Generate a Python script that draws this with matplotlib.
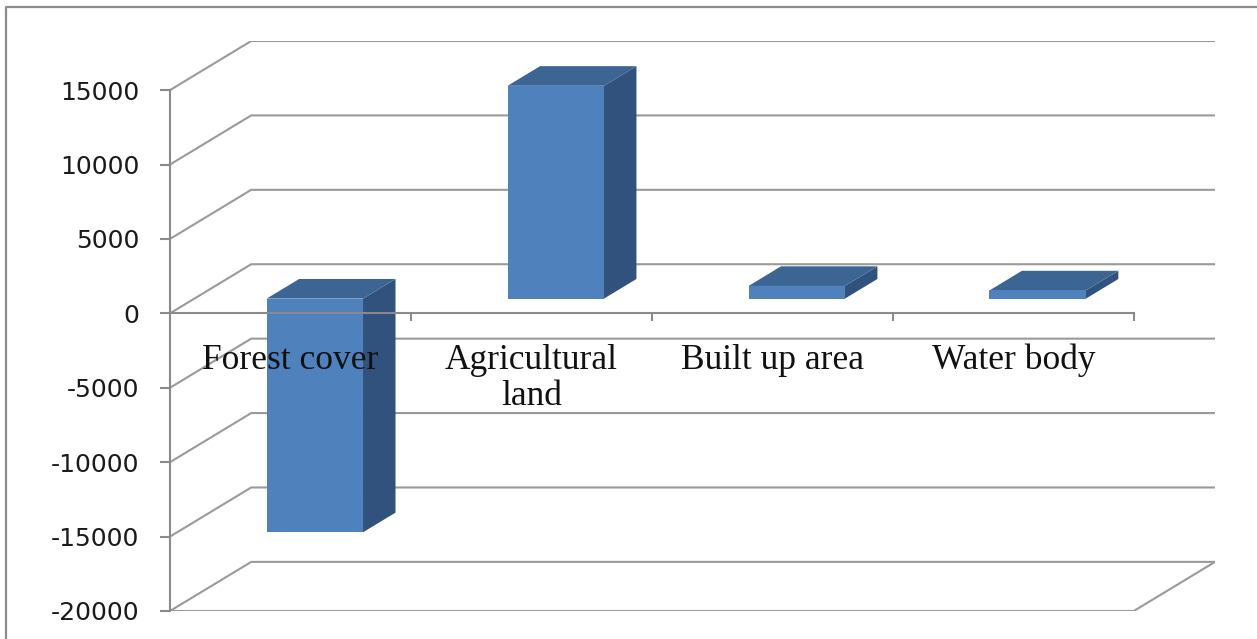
import matplotlib
matplotlib.use("Agg")
import matplotlib.pyplot as plt
from matplotlib.patches import Polygon
from matplotlib.lines import Line2D

# Land use change by class
categories = ["Forest cover", "Agricultural\nland", "Built up area", "Water body"]
values = [-15700, 14300, 850, 550]
y_ticks = [-20000, -15000, -10000, -5000, 0, 5000, 10000, 15000]

# Oblique 3-D look: depth offset of the back wall in data units
DX = 0.337      # categories
DY = 3300       # value units
BAR_W = 0.4
F_FRONT, F_BACK = 0.3, 0.7   # bar placement along the depth

FRONT = "#4F81BD"
TOP = "#3D6594"
SIDE = "#31527C"
GRID = "#9a9a9a"

W, H = 1257, 639
fig = plt.figure(figsize=(W / 100, H / 100), dpi=100)
fig.patch.set_facecolor("white")
ax = fig.add_axes([170 / W, (H - 611) / H, (1215 - 170) / W, (611 - 41) / H])
ax.set_xlim(0, len(categories) + DX)
ax.set_ylim(y_ticks[0], y_ticks[-1] + DY)
ax.patch.set_alpha(0)

n = len(categories)
lw = 1.5

# Side wall diagonals and back wall gridlines
for g in y_ticks:
    ax.plot([0, DX, n + DX], [g, g + DY, g + DY], color=GRID, lw=lw, zorder=0.5,
            solid_capstyle="butt")
# Floor outline
floor = y_ticks[0]
ax.plot([0, n, n + DX], [floor, floor, floor + DY], color=GRID, lw=lw, zorder=0.5)

# Bars: side, top and front faces
ddx = (F_BACK - F_FRONT) * DX
ddy = (F_BACK - F_FRONT) * DY
for i, v in enumerate(values):
    x0 = i + 0.5 - BAR_W / 2 + F_FRONT * DX
    off = F_FRONT * DY
    lo, hi = min(0, v) + off, max(0, v) + off
    side = Polygon([(x0 + BAR_W, lo), (x0 + BAR_W, hi), (x0 + BAR_W + ddx, hi + ddy),
                    (x0 + BAR_W + ddx, lo + ddy)], closed=True, facecolor=SIDE,
                   edgecolor="none", zorder=1)
    top = Polygon([(x0, hi), (x0 + BAR_W, hi), (x0 + BAR_W + ddx, hi + ddy),
                   (x0 + ddx, hi + ddy)], closed=True, facecolor=TOP,
                  edgecolor="none", zorder=1)
    ax.add_patch(side)
    ax.add_patch(top)
    ax.bar(x0, hi - lo, bottom=lo, width=BAR_W, align="edge", color=FRONT,
           edgecolor="none", zorder=1)

# Axes: value axis on the left, category axis at zero
for s in ["top", "right"]:
    ax.spines[s].set_visible(False)
ax.spines["left"].set_bounds(y_ticks[0], y_ticks[-1])
ax.spines["left"].set_color("#8a8a8a")
ax.spines["left"].set_linewidth(lw)
ax.spines["bottom"].set_position(("data", 0))
ax.spines["bottom"].set_bounds(0, n)
ax.spines["bottom"].set_color("#8a8a8a")
ax.spines["bottom"].set_linewidth(lw)

ax.set_yticks(y_ticks)
ax.set_yticklabels([str(t) for t in y_ticks])
ax.tick_params(axis="y", length=10 * 0.72, width=lw, color="#8a8a8a", pad=15,
               labelsize=18, labelcolor="#1a1a1a")
for lab in ax.get_yticklabels():
    lab.set_fontfamily("DejaVu Sans")

ax.set_xticks(range(1, n + 1))
ax.set_xticklabels([])
ax.tick_params(axis="x", which="major", length=8 * 0.72, width=lw, color="#8a8a8a")
ax.set_xticks([i + 0.5 for i in range(n)], minor=True)
ax.set_xticklabels(categories, minor=True, fontfamily="Liberation Serif",
                   fontsize=25.5, color="#111111", linespacing=1.12)
ax.tick_params(axis="x", which="minor", length=0, pad=22)

# Chart area border
fig.add_artist(Line2D([6 / W, 6 / W, 1.0], [0, 1 - 7 / H, 1 - 7 / H],
                      transform=fig.transFigure, color="#8c8c8c", lw=1.6))

fig.savefig("out.png", dpi=100)
